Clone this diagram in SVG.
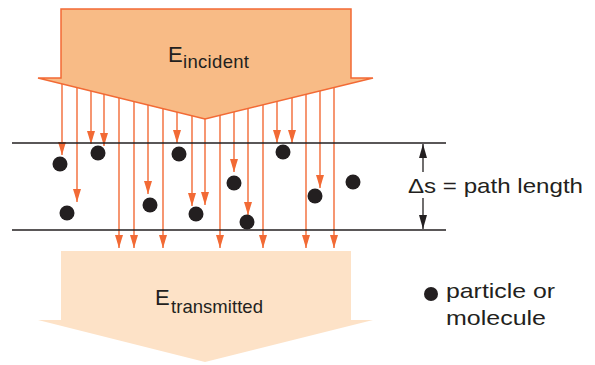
<svg xmlns="http://www.w3.org/2000/svg" width="595" height="365" viewBox="0 0 595 365">
<style>
.ray{stroke:#f26a35;stroke-width:1.4;fill:none;marker-end:url(#oh)}
.bnd{stroke:#231f20;stroke-width:1.3}
.p{fill:#231f20}
.t{font-family:"Liberation Sans",Arial,sans-serif;fill:#231f20}
</style>
<defs>
<marker id="oh" markerUnits="userSpaceOnUse" markerWidth="14" markerHeight="9" refX="13" refY="4" orient="auto">
<path d="M0,0 L13,4 L0,8 Z" fill="#f26a35"/>
</marker>
<marker id="bh" markerUnits="userSpaceOnUse" markerWidth="15" markerHeight="9" refX="14" refY="4" orient="auto">
<path d="M0,0 L14,4 L0,8 Z" fill="#231f20"/>
</marker>
</defs>
<rect width="595" height="365" fill="#ffffff"/>
<g id="transmitted">
<polygon points="61,251 351,251 351,320 373,320 205,362 38,320 61,320" fill="#fde2c7"/>
<text class="t" x="155" y="305" font-size="22">E</text>
<text class="t" x="171" y="313" font-size="18.5" textLength="92">transmitted</text>
</g>
<g id="connectors">
<line class="ray" x1="62" y1="80" x2="62" y2="155"/>
<line class="ray" x1="77" y1="80" x2="77" y2="202"/>
<line class="ray" x1="91" y1="80" x2="91" y2="144"/>
<line class="ray" x1="104" y1="80" x2="104" y2="146"/>
<line class="ray" x1="119" y1="80" x2="119" y2="248"/>
<line class="ray" x1="134" y1="80" x2="134" y2="248"/>
<line class="ray" x1="148" y1="80" x2="148" y2="194"/>
<line class="ray" x1="163" y1="80" x2="163" y2="248"/>
<line class="ray" x1="177" y1="80" x2="177" y2="143"/>
<line class="ray" x1="192" y1="80" x2="192" y2="206"/>
<line class="ray" x1="205" y1="110" x2="205" y2="205"/>
<line class="ray" x1="220" y1="80" x2="220" y2="248"/>
<line class="ray" x1="234" y1="80" x2="234" y2="172"/>
<line class="ray" x1="248" y1="80" x2="248" y2="215"/>
<line class="ray" x1="263" y1="80" x2="263" y2="248"/>
<line class="ray" x1="277" y1="80" x2="277" y2="143"/>
<line class="ray" x1="292" y1="80" x2="292" y2="143"/>
<line class="ray" x1="306" y1="80" x2="306" y2="248"/>
<line class="ray" x1="320" y1="80" x2="320" y2="188"/>
<line class="ray" x1="334" y1="80" x2="334" y2="248"/>
</g>
<g id="incident">
<polygon points="61,9 351,9 351,78 373,78 205,119 38,78 61,78" fill="#f8bb86" stroke="#f26a35" stroke-width="1.5" stroke-linejoin="miter"/>
<text class="t" x="168" y="62" font-size="22">E</text>
<text class="t" x="183" y="68" font-size="18.5" textLength="66">incident</text>
</g>
<g id="medium">
<line class="bnd" x1="12" y1="143" x2="446" y2="143"/>
<line class="bnd" x1="12" y1="230" x2="446" y2="230"/>
</g>
<g id="particles">
<circle class="p" cx="60" cy="164" r="7.5"/>
<circle class="p" cx="98" cy="153" r="7.5"/>
<circle class="p" cx="179" cy="154" r="7.5"/>
<circle class="p" cx="283" cy="152" r="7.5"/>
<circle class="p" cx="234" cy="183" r="7.5"/>
<circle class="p" cx="353" cy="182" r="7.5"/>
<circle class="p" cx="315" cy="196" r="7.5"/>
<circle class="p" cx="67" cy="213" r="7.5"/>
<circle class="p" cx="150" cy="205" r="7.5"/>
<circle class="p" cx="196" cy="214" r="7.5"/>
<circle class="p" cx="247" cy="222" r="7.5"/>
</g>
<g id="pathlength">
<line x1="423" y1="172" x2="423" y2="144" stroke="#231f20" stroke-width="1.3" marker-end="url(#bh)"/>
<line x1="423" y1="198" x2="423" y2="229" stroke="#231f20" stroke-width="1.3" marker-end="url(#bh)"/>
<text class="t" x="408" y="193" font-size="21" textLength="175" lengthAdjust="spacingAndGlyphs">Δs = path length</text>
</g>
<g id="legend">
<circle class="p" cx="431" cy="294" r="7"/>
<text class="t" x="446" y="298" font-size="21" textLength="109" lengthAdjust="spacingAndGlyphs">particle or</text>
<text class="t" x="446" y="325" font-size="21" textLength="100" lengthAdjust="spacingAndGlyphs">molecule</text>
</g>
</svg>
